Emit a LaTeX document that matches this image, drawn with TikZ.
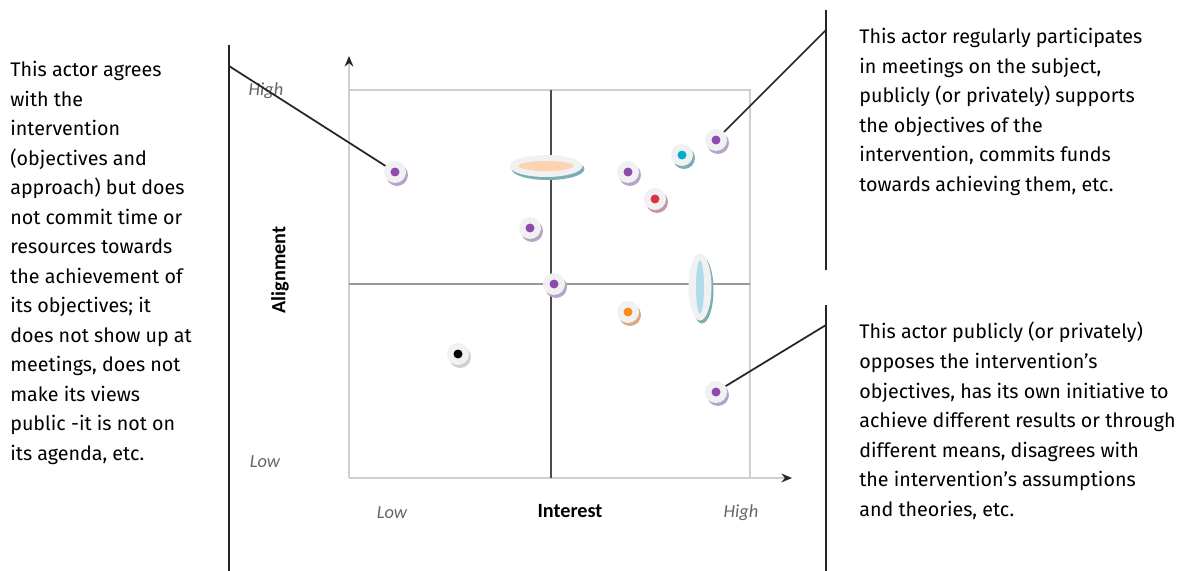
\documentclass[tikz,border=0pt]{standalone}
\usepackage{fontspec}
\setmainfont{Fira Sans}
\newfontfamily\axisfont{Carlito}
\usepackage{tikz}
\usetikzlibrary{arrows.meta,positioning,shapes.geometric,shadows}

\definecolor{dotpurple}{HTML}{8E4BAA}
\definecolor{dotcyan}{HTML}{00AECB}
\definecolor{dotred}{HTML}{D93440}
\definecolor{dotorange}{HTML}{FF8A1C}
\definecolor{shpurple}{HTML}{B7A3C7}
\definecolor{shteal}{HTML}{79AEB2}
\definecolor{shred}{HTML}{C59A9C}
\definecolor{shorange}{HTML}{DDA77F}
\definecolor{shgray}{HTML}{CFCFCF}
\definecolor{disc}{HTML}{F1F1F3}
\definecolor{peach}{HTML}{FDD2B0}
\definecolor{iceblue}{HTML}{ADDDE8}
\definecolor{framegray}{HTML}{CFCFCF}

\begin{document}
\begin{tikzpicture}[
  x=0.02cm, y=-0.02cm,
  note/.style={anchor=north west, align=left, inner sep=0pt,
    font=\fontsize{11.2}{16.8}\selectfont},
  lvl/.style={font=\axisfont\itshape\fontsize{10.5}{12}\selectfont, text=black!60},
  axisname/.style={font=\axisfont\bfseries\fontsize{11.5}{13}\selectfont},
  actor/.style 2 args={circle, fill=disc, minimum size=0.44cm, inner sep=0pt,
    drop shadow={shadow xshift=0.04cm, shadow yshift=-0.06cm, fill=#2, opacity=1},
    path picture={\fill[#1] (path picture bounding box.center) circle (0.09cm);}},
  cluster/.style={ellipse, fill=disc, inner sep=0pt,
    drop shadow={shadow xshift=0.04cm, shadow yshift=-0.06cm, fill=shteal, opacity=1}},
  link/.style={black!85, line width=1pt},
  boxline/.style={framegray, line width=1.3pt},
  tip/.style={-{Stealth[length=6pt, width=5pt, color=black!85]}}
]
  \useasboundingbox (0,0) rectangle (1187,571);

  % matrix frame
  \draw[boxline] (349,90) -- (750,90) -- (750,478);
  \draw[boxline, tip] (349,478) -- (349,56);
  \draw[boxline, tip] (349,478) -- (792,478);
  \draw[black!70, line width=1pt] (551,90) -- (551,478);
  \draw[black!40, line width=1pt] (349,284) -- (750,284);

  \node[lvl] (ahigh) at (266,91) {High};
  \node[lvl] (alow) at (265,462) {Low};
  \node[lvl] (ilow) at (392,513) {Low};
  \node[lvl] (ihigh) at (741,513) {High};
  \node[axisname] (interest) at (570,511) {Interest};
  \node[axisname, rotate=90] (alignment) at (280,270) {Alignment};

  % actors
  \node[cluster, minimum width=1.46cm, minimum height=0.44cm,
    path picture={\fill[peach] (path picture bounding box.center) ellipse (0.55cm and 0.1cm);}]
    (flatgroup) at (546,166) {};
  \node[cluster, minimum width=0.46cm, minimum height=1.34cm,
    path picture={\fill[iceblue] (path picture bounding box.center) ellipse (0.08cm and 0.53cm);}]
    (tallgroup) at (700,287) {};
  \node[actor={dotpurple}{shpurple}] (passive) at (395,172) {};
  \node[actor={dotpurple}{shpurple}] (midup) at (530,228) {};
  \node[actor={dotpurple}{shpurple}] (centre) at (554,284) {};
  \node[actor={dotpurple}{shpurple}] (keen) at (628,172) {};
  \node[actor={dotcyan}{shteal}] (cyanact) at (682,155) {};
  \node[actor={dotred}{shred}] (redact) at (655,199) {};
  \node[actor={dotpurple}{shpurple}] (champion) at (716,140) {};
  \node[actor={dotorange}{shorange}] (orangeact) at (628,312) {};
  \node[actor={black}{shgray}] (blackact) at (458,354) {};
  \node[actor={dotpurple}{shpurple}] (opponent) at (716,392) {};

  % callout bars
  \draw[link] (229,45) -- (229,571);
  \draw[link] (826,10) -- (826,270);
  \draw[link] (826,305) -- (826,571);
  \coordinate (lhook) at (229,66);
  \coordinate (rtop) at (826,30);
  \coordinate (rbot) at (826,325);
  \draw[link] (lhook) -- (passive);
  \draw[link] (rtop) -- (champion);
  \draw[link] (rbot) -- (opponent);

  \node[note] (passivetxt) at (10,61) {This actor agrees\\with the\\intervention\\(objectives and\\approach) but does\\not commit time or\\resources towards\\the achievement of\\its objectives; it\\does not show up at\\meetings, does not\\make its views\\public -it is not on\\its agenda, etc.};
  \node[note] (championtxt) at (859,28) {This actor regularly participates\\in meetings on the subject,\\publicly (or privately) supports\\the objectives of the\\intervention, commits funds\\towards achieving them, etc.};
  \node[note] (opponenttxt) at (859,322) {This actor publicly (or privately)\\opposes the intervention's\\objectives, has its own initiative to\\achieve different results or through\\different means, disagrees with\\the intervention's assumptions\\and theories, etc.};
\end{tikzpicture}
\end{document}
